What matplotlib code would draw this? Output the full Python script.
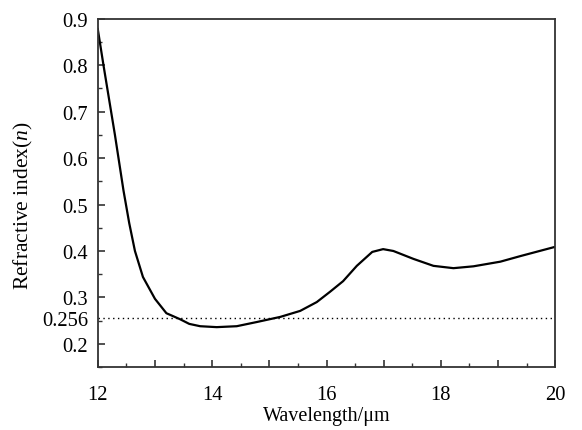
import matplotlib
matplotlib.use("Agg")
import matplotlib.pyplot as plt
from matplotlib.ticker import MultipleLocator, FixedLocator, NullFormatter

plt.rcParams["font.family"] = ["Liberation Serif", "DejaVu Serif"]
plt.rcParams["mathtext.fontset"] = "custom"
plt.rcParams["mathtext.rm"] = "Liberation Serif"
plt.rcParams["mathtext.it"] = "Liberation Serif:italic"

# Wavelength (um) and refractive index n
wavelength = [12.0, 12.1, 12.3, 12.45, 12.55, 12.65, 12.79, 13.0, 13.2, 13.44, 13.6,
              13.79, 14.08, 14.43, 14.78, 15.19, 15.54, 15.83, 16.06, 16.29,
              16.53, 16.8, 16.99, 17.17, 17.52, 17.87, 18.22, 18.57, 19.04,
              19.39, 20.0]
refr_index = [0.878, 0.80, 0.65, 0.53, 0.46, 0.40, 0.344, 0.297, 0.266, 0.253, 0.243,
              0.238, 0.236, 0.238, 0.247, 0.258, 0.271, 0.290, 0.312, 0.335,
              0.368, 0.398, 0.404, 0.400, 0.383, 0.368, 0.363, 0.367, 0.377,
              0.389, 0.409]
ref_level = 0.256
y_ticks = [0.2, ref_level, 0.3, 0.4, 0.5, 0.6, 0.7, 0.8, 0.9]
y_labels = ["0.2", "0.256", "0.3", "0.4", "0.5", "0.6", "0.7", "0.8", "0.9"]
x_ticks = [12, 13, 14, 15, 16, 17, 18, 19, 20]
x_labels = ["12", "", "14", "", "16", "", "18", "", "20"]

fig = plt.figure(figsize=(5.82, 4.31), dpi=100)
ax = fig.add_axes([0.168, 0.146, 0.786, 0.808])

ax.plot(wavelength, refr_index, color="black", lw=1.6)
ax.plot([12, 20], [ref_level, ref_level], color="black", lw=1.0, ls=(0, (1, 2.5)))

ax.set_xlim(12, 20)
ax.set_ylim(0.15, 0.9)
ax.xaxis.set_major_locator(FixedLocator(x_ticks))
ax.set_xticklabels(x_labels)
ax.xaxis.set_minor_locator(MultipleLocator(0.5))
ax.yaxis.set_major_locator(FixedLocator(y_ticks))
ax.set_yticklabels(y_labels)
ax.yaxis.set_minor_locator(FixedLocator([0.15, 0.25, 0.35, 0.45, 0.55, 0.65, 0.75, 0.85]))
ax.yaxis.set_minor_formatter(NullFormatter())

ax.tick_params(which="both", direction="in", labelsize=14.8, color="#333333")
ax.tick_params(which="major", length=5, width=1.2)
ax.tick_params(which="minor", length=3, width=1.0)
ax.tick_params(axis="x", pad=13)
ax.tick_params(axis="y", pad=7)
for spine in ax.spines.values():
    spine.set_edgecolor("#333333")
    spine.set_linewidth(1.3)
# the 0.256 tick has no tick mark in the reference
ax.yaxis.get_major_ticks()[1].tick1line.set_visible(False)

ax.set_xlabel("Wavelength/μm", fontsize=14.5, labelpad=1)
ax.set_ylabel(r"Refractive index($\mathit{n}$)", fontsize=15.5)
ax.yaxis.set_label_coords(-0.138, 0.466)

fig.savefig("out.png", dpi=100)
